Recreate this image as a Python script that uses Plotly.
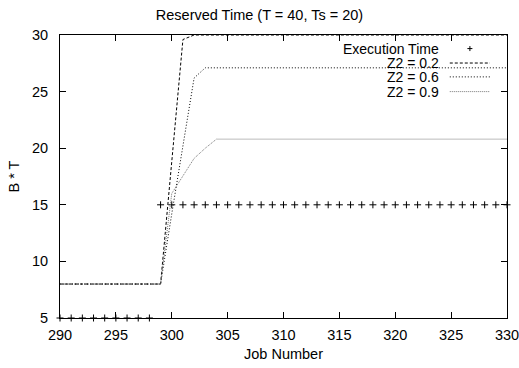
import plotly.graph_objects as go

job = list(range(290, 331))
exec_time = [5]*9 + [15]*32  # 290..298 -> 5, 299..330 -> 15

z2_02_x = [290, 299, 300, 301, 302, 330]
z2_02_y = [8, 8, 18.8, 29.6, 30, 30]

z2_06_x = [290, 299, 300, 301, 302, 303, 330]
z2_06_y = [8, 8, 14.2, 20.3, 26.2, 27.1, 27.1]

z2_09_x = [290, 299, 300, 301, 302, 303, 304, 330]
z2_09_y = [8, 8, 16.0, 17.6, 19.1, 20.0, 20.8, 20.8]

FONT = "Liberation Sans, Arial, Helvetica, sans-serif"
FS = 14.5

fig = go.Figure()
fig.add_trace(go.Scatter(x=job, y=exec_time, mode="markers", name="Execution Time",
                         marker=dict(symbol="cross-thin", size=5, line=dict(width=1, color="black"), color="black"),
                         showlegend=False, cliponaxis=False))
fig.add_trace(go.Scatter(x=z2_02_x, y=z2_02_y, mode="lines", name="Z2 = 0.2",
                         line=dict(color="black", width=1, dash="3px,2px"), showlegend=False, cliponaxis=False))
fig.add_trace(go.Scatter(x=z2_06_x, y=z2_06_y, mode="lines", name="Z2 = 0.6",
                         line=dict(color="black", width=1, dash="1px,2px"), showlegend=False))
fig.add_trace(go.Scatter(x=z2_09_x, y=z2_09_y, mode="lines", name="Z2 = 0.9",
                         line=dict(color="#777777", width=1, dash="1px,1px"), showlegend=False))

# custom gnuplot-style legend (text right-aligned, sample on the right)
legend_labels = ["Execution Time", "Z2 = 0.2", "Z2 = 0.6", "Z2 = 0.9"]
legend_y = [0.952, 0.901, 0.852, 0.800]
text_x = 0.851
x0, x1 = 0.872, 0.962
for lab, yy in zip(legend_labels, legend_y):
    fig.add_annotation(x=text_x, y=yy, xref="paper", yref="paper", text=lab, showarrow=False,
                       xanchor="right", yanchor="middle", borderpad=0,
                       font=dict(family=FONT, size=14, color="black"))
styles = [("black", "3px,2px"), ("black", "1px,2px"), ("#777777", "1px,1px")]
for (col, dash), yy in zip(styles, legend_y[1:]):
    fig.add_shape(type="line", xref="paper", yref="paper", x0=x0, x1=x1, y0=yy, y1=yy,
                  line=dict(color=col, width=1, dash=dash))
# plus marker sample
mx = (x0 + x1) / 2
fig.add_shape(type="line", xref="paper", yref="paper", x0=mx - 0.0056, x1=mx + 0.0056,
              y0=legend_y[0], y1=legend_y[0], line=dict(color="black", width=1))
fig.add_shape(type="line", xref="paper", yref="paper", x0=mx, x1=mx,
              y0=legend_y[0] - 0.0088, y1=legend_y[0] + 0.0088, line=dict(color="black", width=1))

fig.update_layout(
    width=519, height=368,
    margin=dict(l=60, r=12, t=35, b=50, autoexpand=False),
    paper_bgcolor="white", plot_bgcolor="white",
    font=dict(family=FONT, size=FS, color="black"),
    title=dict(text="Reserved Time (T = 40, Ts = 20)", x=0.5, xanchor="center",
               y=1 - 15/368, yanchor="middle", font=dict(size=FS), automargin=False),
    showlegend=False,
)
fig.update_xaxes(range=[290, 330], tickvals=list(range(290, 331, 5)), ticks="inside", ticklen=6,
                 showline=True, linecolor="black", linewidth=1, mirror="ticks", showgrid=False,
                 zeroline=False, title=dict(text="Job Number", standoff=6, font=dict(size=FS)),
                 tickcolor="black", tickfont=dict(size=FS), ticklabelstandoff=4, automargin=False,
                 ticklabeloverflow="allow")
fig.update_yaxes(range=[5, 30], tickvals=list(range(5, 31, 5)), ticks="inside", ticklen=6,
                 showline=True, linecolor="black", linewidth=1, mirror="ticks", showgrid=False,
                 zeroline=False, title=dict(text="B * T", standoff=8, font=dict(size=FS)),
                 tickcolor="black", tickfont=dict(size=FS), ticklabelstandoff=8, automargin=False,
                 ticklabeloverflow="allow")

fig.write_html("out.html", config={"displayModeBar": False},
               post_script="document.body.style.margin='0';document.body.style.padding='0';")
